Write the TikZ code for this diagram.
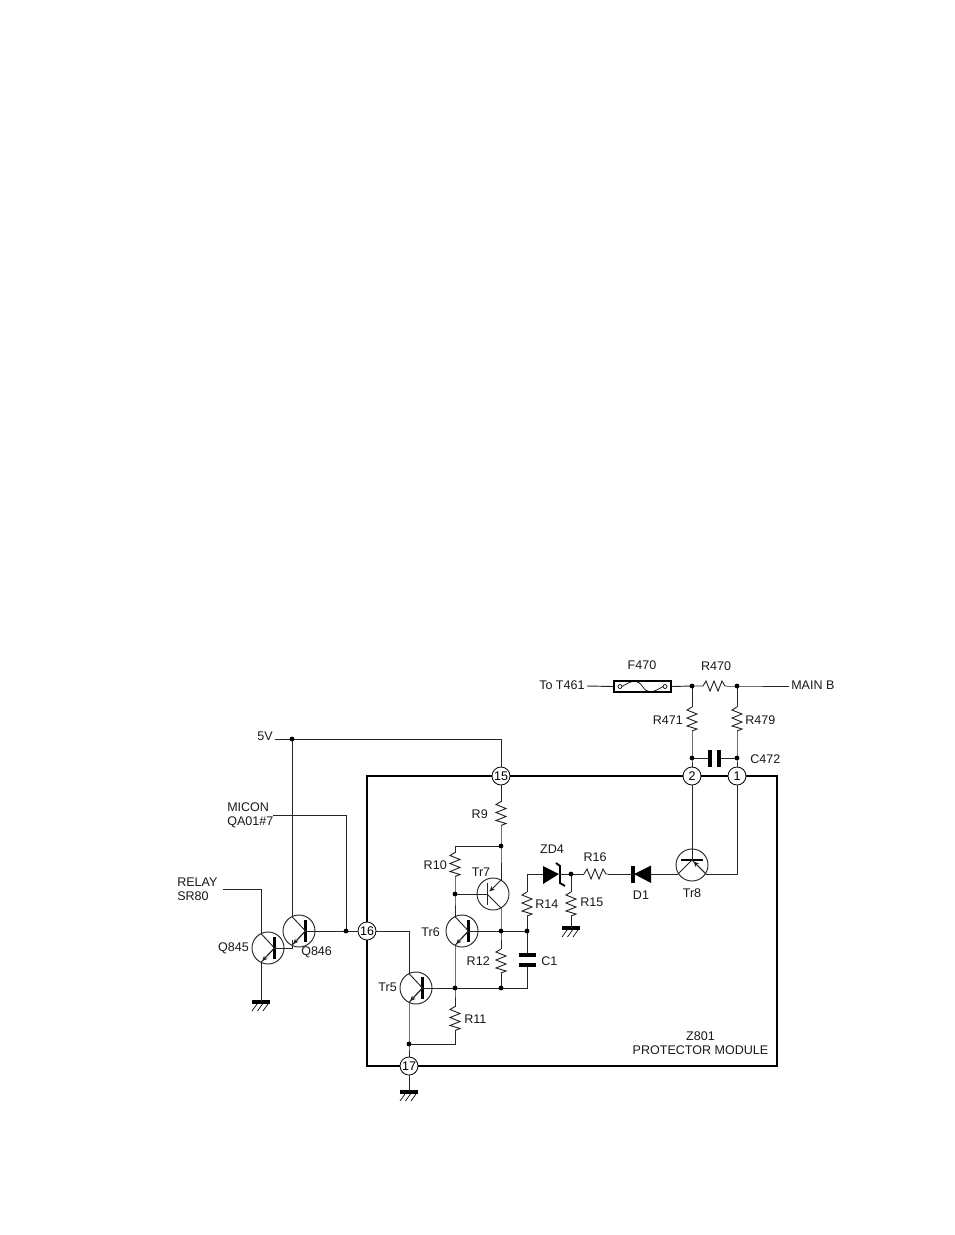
\documentclass[tikz,border=0pt]{standalone}
\usepackage{fontspec}
\setmainfont{Liberation Sans}
\usetikzlibrary{arrows.meta}
\tikzset{
  x=0.75pt,y=-0.75pt,
  wire/.style={line width=0.7pt,color=black!85},
  box/.style={line width=1.5pt,color=black},
  plate/.style={line width=2.6pt,color=black,line cap=butt},
  lab/.style={inner sep=0pt,font=\fontsize{9.4}{10.6}\selectfont,text=black!90},
  term/.style={circle,draw=black,line width=0.6pt,fill=white,minimum size=13.5pt,inner sep=0pt,font=\fontsize{9.4}{11}\selectfont},
  dot/.style={circle,fill=black,minimum size=3.6pt,inner sep=0pt},
  tip/.style={-{Stealth[length=4pt,width=3.6pt]}},
  rv/.pic={
    \coordinate (-t) at (0,-12); \coordinate (-b) at (0,12);
    \draw[wire] (0,-12) -- (-5,-9) -- (5,-5) -- (-5,-1) -- (5,3) -- (-5,7) -- (5,10) -- (0,12);
  },
  rh/.pic={
    \coordinate (-l) at (-12,0); \coordinate (-r) at (12,0);
    \draw[wire] (-12,0) -- (-9,-5) -- (-5,5) -- (-1,-5) -- (3,5) -- (7,-5) -- (10,0) -- (12,0);
  },
  npn/.pic={
    \coordinate (-b) at (6.5,0); \coordinate (-c) at (-7,-14.4); \coordinate (-e) at (-7,14.4);
    \draw[wire] (0,0) circle[radius=16];
    \draw[line width=1.6pt] (6.5,-11) -- (6.5,11);
    \draw[wire] (6.5,0) -- (-7,-14.4);
    \draw[wire] (-7,14.4) -- (6.5,0);
    \draw[wire,tip] (6.5,0) -- (-5.8,13);
  },
  pnp/.pic={
    \coordinate (-b) at (-6,0); \coordinate (-c) at (8,14); \coordinate (-e) at (8,-14);
    \draw[wire] (0,0) circle[radius=16];
    \draw[wire] (-6,-11) -- (-6,11);
    \draw[wire] (-6,0) -- (8,14);
    \draw[wire,tip] (8,-14) -- (-3.5,-2.5);
  },
  gnd/.pic={
    \coordinate (-t) at (0,0);
    \draw[line width=2.4pt] (-9,0) -- (9,0);
    \foreach \k in {-7,-1.5,4}{\draw[line width=0.5pt] (\k+3,2) -- (\k-2,9);}
  }
}
\begin{document}
\begin{tikzpicture}
\useasboundingbox[fill=white] (0,0) rectangle (954,1235);

% module box
\coordinate (bTL) at (367,776); \coordinate (bTR) at (777,776);
\coordinate (bBR) at (777,1066); \coordinate (bBL) at (367,1066);
\draw[box] (bTL) -- (bTR) -- (bBR) -- (bBL) -- cycle;

% named points
\coordinate (j692) at (692,686);
\coordinate (j737) at (737,686);
\coordinate (jC2) at (692,758);
\coordinate (jC1) at (737,758);
\coordinate (mainEnd) at (789,686);
\coordinate (t461End) at (587,686);
\coordinate (v5L) at (275,739);
\coordinate (v5J) at (292,739);
\coordinate (v5R) at (501,739);
\coordinate (jR9) at (501,846);
\coordinate (cR10) at (455,846);
\coordinate (jB7) at (455,894);
\coordinate (jB6) at (501,931);
\coordinate (jC) at (527,931);
\coordinate (jE6) at (455,988);
\coordinate (jR12) at (501,988);
\coordinate (cC1) at (527,988);
\coordinate (jZ) at (571,874);
\coordinate (cR14) at (527,874);
\coordinate (jQ) at (346,931);
\coordinate (cMic) at (346,815);
\coordinate (micEnd) at (273,815);
\coordinate (cRel) at (261,889);
\coordinate (relEnd) at (223,889);
\coordinate (c16) at (409,931);
\coordinate (j17) at (409,1044);
\coordinate (cR11) at (455,1044);
\coordinate (cT8) at (737,874);
\coordinate (cQ) at (292,948);
\coordinate (cQb) at (292,940);

% terminals
\node[term] (t15) at (501,776) {15};
\node[term] (t2) at (692,776) {2};
\node[term] (t1) at (737,776) {1};
\node[term] (t16) at (367,931) {16};
\node[term] (t17) at (409,1066) {17};

% fuse
\node[draw=black,line width=1.5pt,minimum width=43pt,minimum height=8.6pt,inner sep=0pt,fill=white] (fuse) at (642.5,686.5) {};
\draw[line width=0.5pt] (620,686.5) circle[radius=2];
\draw[line width=0.5pt] (665,686.5) circle[radius=2];
\draw[line width=0.5pt] (622,686.5) .. controls (634,679) and (638,680) .. (642.5,686.5) .. controls (647,693) and (651,694) .. (663,686.5);

% resistors
\pic (r470) at (715,686) {rh};
\pic (r16) at (596,874) {rh};
\pic (r471) at (692,719) {rv};
\pic (r479) at (737,719) {rv};
\pic (r9) at (501,813.5) {rv};
\pic (r10) at (455,864.5) {rv};
\pic (r14) at (527,904) {rv};
\pic (r15) at (571,904) {rv};
\pic (r12) at (501,961) {rv};
\pic (r11) at (455,1018.5) {rv};

% transistors
\pic (q845) at (268,948) {npn};
\pic (q846) at (299,931) {npn};
\pic (tr5) at (416,988) {npn};
\pic (tr6) at (462,931) {npn};
\pic (tr7) at (493,894) {pnp};
% Tr8
\draw[wire] (692,865) circle[radius=16];
\draw[line width=1.6pt] (681,860) -- (703,860);
\coordinate (tr8L) at (678,874); \coordinate (tr8R) at (706,874);
\coordinate (tr8B) at (692,860);
\draw[wire] (tr8B) -- (tr8L);
\draw[wire] (tr8B) -- (tr8R);
\draw[wire,tip] (tr8R) -- (693.5,861.5);

% grounds
\pic (g1) at (261,1002) {gnd};
\pic (g2) at (409,1092) {gnd};
\pic (g3) at (571,928) {gnd};

% wiring
\draw[wire] (t461End) -- (fuse.west);
\draw[wire] (fuse.east) -- (j692) -- (r470-l);
\draw[wire] (r470-r) -- (j737) -- (mainEnd);
\draw[wire] (j692) -- (r471-t);
\draw[wire] (r471-b) -- (jC2) -- (t2);
\draw[wire] (j737) -- (r479-t);
\draw[wire] (r479-b) -- (jC1) -- (t1);
\draw[wire] (t2) -- (tr8B);
\draw[wire] (t1) -- (cT8) -- (tr8R);
\draw[wire] (jC2) -- (710,758);
\draw[wire] (719,758) -- (jC1);
\draw[plate] (710,750) -- (710,767);
\draw[plate] (719,750) -- (719,767);

\draw[wire] (v5L) -- (v5R) -- (t15);
\draw[wire] (t15) -- (r9-t);
\draw[wire] (r9-b) -- (jR9) -- (tr7-e);
\draw[wire] (jR9) -- (cR10) -- (r10-t);
\draw[wire] (r10-b) -- (jB7) -- (tr6-c);
\draw[wire] (jB7) -- (tr7-b);
\draw[wire] (tr7-c) -- (jB6) -- (r12-t);
\draw[wire] (r12-b) -- (jR12);
\draw[wire] (tr6-b) -- (jC) -- (r14-b);
\draw[wire] (r14-t) -- (cR14) -- (543,874);
\draw[wire] (tr6-e) -- (jE6) -- (r11-t);
\draw[wire] (r11-b) -- (cR11) -- (j17);
\draw[wire] (tr5-b) -- (cC1) -- (527,965);
\draw[wire] (527,955) -- (jC);
\draw[plate] (519,955) -- (536,955);
\draw[plate] (519,965) -- (536,965);

% Zener
\coordinate (zT) at (559,874);
\fill (543,866) -- (559,874) -- (543,884) -- cycle;
\draw[line width=1.4pt] (556,863) -- (560,866) -- (560,883) -- (565,886);
\draw[wire] (zT) -- (jZ) -- (r16-l);
\draw[wire] (jZ) -- (r15-t);
\draw[wire] (r15-b) -- (g3-t);

% D1
\fill (634,874) -- (651,865.5) -- (651,883) -- cycle;
\draw[line width=2.4pt] (633,866) -- (633,883);
\draw[wire] (r16-r) -- (633,874);
\draw[wire] (651,874) -- (tr8L);

% left side
\draw[wire] (relEnd) -- (cRel) -- (q845-c);
\draw[wire] (q845-e) -- (g1-t);
\draw[wire] (v5J) -- (q846-c);
\draw[wire] (q845-b) -- (cQ) -- (cQb);
\draw[wire] (q846-b) -- (jQ) -- (t16);
\draw[wire] (micEnd) -- (cMic) -- (jQ);
\draw[wire] (t16) -- (c16) -- (tr5-c);
\draw[wire] (tr5-e) -- (j17) -- (t17);
\draw[wire] (t17) -- (g2-t);

% junctions
\foreach \p/\n in {j692/a,j737/b,jC2/c,jC1/d,v5J/e,jR9/f,jB7/g,jB6/h,jC/i,jE6/k,jR12/l,jZ/m,jQ/n,j17/o}{
  \node[dot] (dot\n) at (\p) {};
}

% labels
\node[lab,anchor=west] (lT461) at (539,685) {To T461};
\node[lab] (lF470) at (642,665) {F470};
\node[lab] (lR470) at (716,666) {R470};
\node[lab,anchor=west] (lMain) at (791,685) {MAIN B};
\node[lab,anchor=east] (lR471) at (683,720) {R471};
\node[lab,anchor=west] (lR479) at (745,720) {R479};
\node[lab,anchor=west] (lC472) at (750,759) {C472};
\node[lab,anchor=east] (l5V) at (273,736) {5V};
\node[lab,anchor=west,align=left] (lMicon) at (227,815) {MICON\\QA01\#7};
\node[lab,anchor=west,align=left] (lRelay) at (177,889) {RELAY\\SR80};
\node[lab,anchor=east] (lQ845) at (249,948) {Q845};
\node[lab,anchor=west] (lQ846) at (301,952) {Q846};
\node[lab,anchor=east] (lR9) at (488,814) {R9};
\node[lab,anchor=east] (lR10) at (447,865) {R10};
\node[lab] (lTr7) at (481,872) {Tr7};
\node[lab,anchor=east] (lTr6) at (440,932) {Tr6};
\node[lab,anchor=east] (lTr5) at (397,987) {Tr5};
\node[lab,anchor=east] (lR12) at (490,961) {R12};
\node[lab,anchor=west] (lR11) at (464,1019) {R11};
\node[lab,anchor=west] (lC1) at (541,961) {C1};
\node[lab,anchor=west] (lR14) at (535,904) {R14};
\node[lab,anchor=west] (lR15) at (580,902) {R15};
\node[lab] (lZD4) at (552,849) {ZD4};
\node[lab] (lR16) at (595,857) {R16};
\node[lab] (lD1) at (641,895) {D1};
\node[lab] (lTr8) at (692,893) {Tr8};
\node[lab,align=center] (lZ801) at (700.5,1043) {Z801\\PROTECTOR MODULE};
\end{tikzpicture}
\end{document}
